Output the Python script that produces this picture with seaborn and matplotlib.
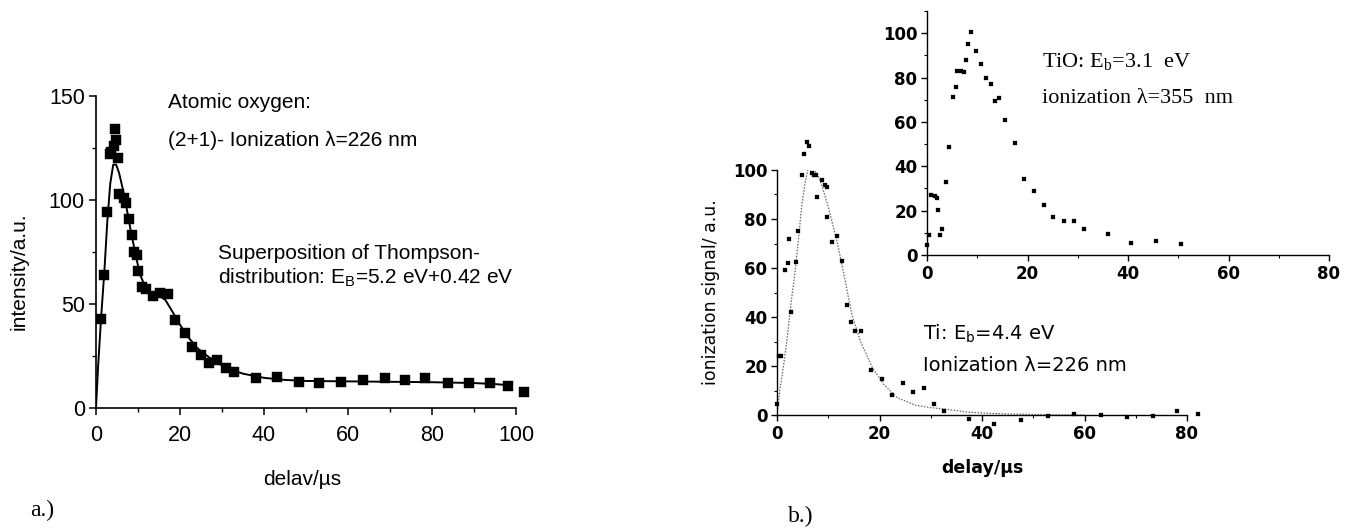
import matplotlib
matplotlib.use("Agg")
import matplotlib.pyplot as plt
from matplotlib.ticker import MultipleLocator
import seaborn as sns
import pandas as pd

# ---- (a) atomic oxygen time-of-flight ----
oxy_delay = [1.2, 1.9, 2.7, 3.3, 3.6, 4.2, 4.5, 4.8, 5.3, 5.5, 6.7, 7.2, 7.9, 8.5,
             9.0, 9.7, 9.9, 10.9, 12.0, 13.6, 15.2, 17.2, 18.9, 21.3, 22.9, 24.9,
             26.8, 28.9, 30.9, 32.8, 38.0, 43.2, 48.3, 53.1, 58.4, 63.6, 68.7,
             73.5, 78.3, 83.9, 88.7, 93.8, 98.0, 102.0]
oxy_signal = [43, 64, 94, 122, 123, 126, 134, 129, 120, 103, 101, 98.5, 91, 83,
              75, 73.5, 66, 58, 57, 53.7, 55.3, 55, 42.3, 36, 29.5, 25.5,
              21.5, 23, 19, 17.5, 14.4, 15, 12.6, 12.2, 12.6, 13.5, 14.4,
              13.5, 14.4, 12, 12, 12.2, 10.5, 7.5]
oxy_fit_delay = [0, 0.5, 1.2, 2.0, 2.7, 3.4, 4.1, 4.8, 5.5, 6.3, 7.2, 8.3, 9.5,
                 10.5, 11.8, 13.2, 15.0, 16.5, 18.0, 20.0, 22.0, 24.0, 26.5,
                 29.0, 32.0, 35.0, 40.0, 45.0, 50.0, 60.0, 70.0, 80.0, 90.0,
                 95.0, 98.0]
oxy_fit_signal = [0, 20, 43, 66, 90, 108, 117, 117, 113, 106, 97, 85, 73, 64,
                  58, 55, 54, 52, 47, 40, 34, 29, 25, 21.5, 18.5, 16.5, 14.5,
                  13.5, 13, 12.8, 12.6, 12.4, 12, 11.5, 11]

# ---- (b) Ti time-of-flight ----
ti_delay = [0.0, 0.3, 0.8, 1.6, 2.1, 2.4, 2.7, 3.7, 4.1, 4.8, 5.3, 5.8, 6.3,
            6.8, 7.2, 7.6, 7.8, 8.8, 9.4, 9.8, 9.7, 10.7, 11.7, 12.7, 13.7,
            14.5, 15.3, 16.3, 18.4, 20.5, 22.5, 24.6, 26.6, 28.6, 30.7, 32.6,
            37.5, 42.4, 47.6, 52.9, 58.0, 63.2, 68.2, 73.3, 78.1, 82.2]
ti_signal = [4.5, 24, 24, 59, 62, 72, 42, 62.4, 75, 98, 106.6, 111.6, 110,
             98.6, 98, 98, 89, 96, 94, 93, 80.7, 70.6, 73, 63, 45,
             37.8, 34.4, 34.4, 18.4, 14.8, 8, 13, 9.5, 11.2, 4.6, 1.6,
             -1.8, -3.8, -2, -0.4, 0.3, 0, -0.8, -0.4, 1.8, 0.4]
ti_fit_delay = [0, 0.6, 1.2, 1.9, 2.7, 3.5, 4.2, 4.8, 5.5, 6.2, 7.0, 8.4, 10.0,
                11.7, 13.0, 14.6, 16.3, 18.6, 20.8, 23.5, 27, 30, 33.3, 37, 42,
                50, 60]
ti_fit_signal = [0, 11, 19, 30, 45, 58, 72, 85, 95, 102, 101, 96, 85, 71, 58,
                 41, 30, 19.4, 12.6, 7, 4, 3, 2.3, 1.2, 0.6, 0.2, 0]

# ---- (b) inset: TiO time-of-flight ----
tio_delay = [0.0, 0.3, 0.8, 1.5, 2.0, 2.2, 2.5, 3.0, 3.8, 4.3, 5.1, 5.7, 6.0,
             6.7, 7.3, 7.8, 8.2, 8.7, 9.7, 10.8, 11.7, 12.8, 13.5, 14.3, 15.5,
             17.5, 19.3, 21.3, 23.3, 25.1, 27.2, 29.3, 31.3, 36.0, 40.5, 45.5,
             50.5]
tio_signal = [4.5, 9, 27, 26.4, 25.7, 20.4, 9, 11.5, 33, 48.5, 71.2, 75.8, 83,
              82.8, 82.5, 88, 95, 100.4, 92, 86, 80, 77, 69.4, 70.6, 60.7,
              50.7, 34.3, 28.7, 22.4, 17.2, 15.2, 15.2, 11.5, 9.5, 5.5, 6.2,
              4.8]

oxy = pd.DataFrame({"delay": oxy_delay, "signal": oxy_signal})
oxy_fit = pd.DataFrame({"delay": oxy_fit_delay, "signal": oxy_fit_signal})
ti = pd.DataFrame({"delay": ti_delay, "signal": ti_signal})
ti_fit = pd.DataFrame({"delay": ti_fit_delay, "signal": ti_fit_signal})
tio = pd.DataFrame({"delay": tio_delay, "signal": tio_signal})

sns.set_theme(style="ticks")
plt.rcParams["font.family"] = ["Liberation Sans", "DejaVu Sans"]

W, H = 1358, 530
fig = plt.figure(figsize=(W / 100, H / 100), dpi=100)


def box(left, right, top, bottom):
    return [left / W, 1 - bottom / H, (right - left) / W, (bottom - top) / H]


def put(px, py, s, **kw):
    fig.text(px / W, 1 - py / H, s, va="baseline", ha="left", **kw)


# ---------------- panel (a) ----------------
ax_a = fig.add_axes(box(96, 516, 96, 408))
sns.lineplot(data=oxy_fit, x="delay", y="signal", sort=False, estimator=None,
             color="black", lw=1.4, ax=ax_a)
sns.scatterplot(data=oxy, x="delay", y="signal", marker="s", s=58,
                color="black", edgecolor="black", linewidth=0.3,
                clip_on=False, zorder=3, ax=ax_a)
ax_a.set_xlim(0, 100)
ax_a.set_ylim(0, 150)
ax_a.xaxis.set_major_locator(MultipleLocator(20))
ax_a.xaxis.set_minor_locator(MultipleLocator(10))
ax_a.yaxis.set_major_locator(MultipleLocator(50))
ax_a.yaxis.set_minor_locator(MultipleLocator(25))
ax_a.tick_params(which="major", length=5, width=1.1, labelsize=15.5,
                 color="black", labelcolor="black", pad=3)
ax_a.tick_params(axis="x", which="major", pad=7)
ax_a.tick_params(which="minor", length=3, width=1.0, color="black")
for sp in ("left", "bottom"):
    ax_a.spines[sp].set_linewidth(1.2)
    ax_a.spines[sp].set_color("black")
sns.despine(ax=ax_a)
ax_a.set_xlabel("delav/µs", fontsize=15, color="black")
ax_a.set_ylabel("intensity/a.u.", fontsize=15, color="black")
ax_a.xaxis.set_label_coords(0.49, -0.2)
ax_a.yaxis.set_label_coords(-0.16, 0.44)
ax_a.set_facecolor("none")

put(168, 108, "Atomic oxygen:", fontsize=15, color="black")
put(168, 146, "(2+1)- Ionization λ=226 nm", fontsize=15, color="black")
put(218, 259, "Superposition of Thompson-", fontsize=15, color="black")
put(218, 283, r"distribution: E$_{\mathregular{B}}$=5.2 eV+0.42 eV",
    fontsize=15, color="black")
put(30, 516, "a.)", fontsize=17, color="black", family="Liberation Serif")

# ---------------- panel (b) main ----------------
bold_ticks = dict(family="DejaVu Sans", weight="bold", size=12)

ax_b = fig.add_axes(box(777, 1187, 170, 415))
sns.lineplot(data=ti_fit, x="delay", y="signal", sort=False, estimator=None,
             color="#666666", lw=0.9, linestyle=(0, (1.2, 1.2)), ax=ax_b)
sns.scatterplot(data=ti, x="delay", y="signal", marker="s", s=12,
                color="black", edgecolor="black", linewidth=0.2,
                clip_on=False, zorder=3, ax=ax_b)
ax_b.set_xlim(0, 80)
ax_b.set_ylim(0, 100)
ax_b.xaxis.set_major_locator(MultipleLocator(20))
ax_b.xaxis.set_minor_locator(MultipleLocator(10))
ax_b.yaxis.set_major_locator(MultipleLocator(20))
ax_b.yaxis.set_minor_locator(MultipleLocator(10))
ax_b.tick_params(which="major", length=4, width=1.0, color="black",
                 labelcolor="black", pad=3)
ax_b.tick_params(which="minor", length=2.5, width=0.8, color="black")
for lab in ax_b.get_xticklabels() + ax_b.get_yticklabels():
    lab.set_fontproperties(bold_ticks)
for sp in ("left", "bottom"):
    ax_b.spines[sp].set_linewidth(1.0)
    ax_b.spines[sp].set_color("black")
sns.despine(ax=ax_b)
ax_b.set_xlabel("delay/µs", family="DejaVu Sans", fontsize=12.5,
                weight="bold", color="black")
ax_b.set_ylabel("ionization signal/ a.u.", family="DejaVu Sans",
                fontsize=12.5, color="black")
ax_b.xaxis.set_label_coords(0.5, -0.18)
ax_b.yaxis.set_label_coords(-0.14, 0.5)
ax_b.set_facecolor("none")

put(923, 340, r"Ti: E$_{\mathregular{b}}$=4.4 eV", fontsize=14,
    family="DejaVu Sans", color="black")
put(923, 371, "Ionization λ=226 nm", fontsize=14, family="DejaVu Sans",
    color="black")
put(788, 522, "b.)", fontsize=17, color="black", family="Liberation Serif")

# ---------------- panel (b) inset ----------------
ax_i = fig.add_axes(box(927, 1329, 11, 255))
sns.scatterplot(data=tio, x="delay", y="signal", marker="s", s=12,
                color="black", edgecolor="black", linewidth=0.2,
                clip_on=False, zorder=3, ax=ax_i)
ax_i.set_xlim(0, 80)
ax_i.set_ylim(0, 110)
ax_i.xaxis.set_major_locator(MultipleLocator(20))
ax_i.xaxis.set_minor_locator(MultipleLocator(10))
ax_i.yaxis.set_major_locator(MultipleLocator(20))
ax_i.yaxis.set_minor_locator(MultipleLocator(10))
ax_i.tick_params(which="major", length=4, width=1.0, color="black",
                 labelcolor="black", pad=3)
ax_i.tick_params(which="minor", length=2.5, width=0.8, color="black")
for lab in ax_i.get_xticklabels() + ax_i.get_yticklabels():
    lab.set_fontproperties(bold_ticks)
for sp in ("left", "bottom"):
    ax_i.spines[sp].set_linewidth(1.0)
    ax_i.spines[sp].set_color("black")
sns.despine(ax=ax_i)
ax_i.set_xlabel("")
ax_i.set_ylabel("")
ax_i.set_facecolor("none")

put(1042, 67, r"TiO: E$_{\mathregular{b}}$=3.1  eV", fontsize=16,
    family="Liberation Serif", color="black")
put(1042, 103, "ionization λ=355  nm", fontsize=16,
    family="Liberation Serif", color="black")

fig.savefig("out.png", dpi=100, facecolor="white")
